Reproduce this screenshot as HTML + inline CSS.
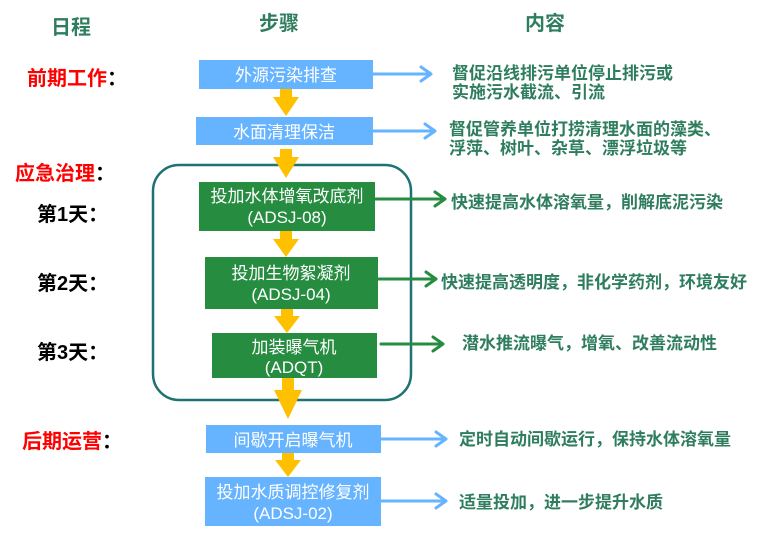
<!DOCTYPE html>
<html><head><meta charset="utf-8"><style>
body{margin:0;background:#fff;}
svg{display:block;font-family:"Liberation Sans","Noto Sans CJK SC",sans-serif;}
.h{fill:#2e7d5e;font-weight:bold;font-size:20px;}
.l{fill:#ff0000;font-weight:bold;font-size:20px;}
.d{fill:#000;font-weight:bold;font-size:20px;}
.r{fill:#2e7d5e;font-weight:bold;font-size:17px;}
.b{fill:#fff;font-size:17px;}
</style></head><body>
<svg width="764" height="548" viewBox="0 0 764 548">
<text class="h" x="51" y="34">日程</text>
<text class="h" x="259" y="30">步骤</text>
<text class="h" x="525" y="30">内容</text>
<text class="l" x="27" y="85">前期工作<tspan fill="#000">：</tspan></text>
<text class="l" x="15" y="180">应急治理<tspan fill="#000">：</tspan></text>
<text class="d" x="37" y="221">第1天：</text>
<text class="d" x="37" y="290">第2天：</text>
<text class="d" x="37" y="359">第3天：</text>
<text class="l" x="22" y="448">后期运营<tspan fill="#000">：</tspan></text>

<rect x="153" y="165" width="258" height="235" rx="26" fill="none" stroke="#1f7272" stroke-width="2.5"/>

<g fill="#ffc000">
<path d="M280 89h12v8h7l-13 19l-13-19h7z"/>
<path d="M280 149h12v8h7l-13 21l-13-21h7z"/>
<path d="M280 231h12v8h7l-13 18l-13-18h7z"/>
<path d="M281 309h12v7h7l-13 17l-13-17h7z"/>
<path d="M282 378h12v12h8l-14 29l-14-29h8z"/>
<path d="M282 453h12v7h7l-13 17l-13-17h7z"/>
</g>

<rect x="199" y="60" width="174" height="29" fill="#66b3ff"/>
<text class="b" x="286" y="81" text-anchor="middle">外源污染排查</text>
<rect x="196" y="117" width="177" height="28" fill="#66b3ff"/>
<text class="b" x="284" y="138" text-anchor="middle">水面清理保洁</text>
<rect x="199" y="182" width="176" height="49" fill="#268c40"/>
<text class="b" x="287" y="202" text-anchor="middle">投加水体增氧改底剂</text>
<text class="b" x="287" y="223" text-anchor="middle">(ADSJ-08)</text>
<rect x="205" y="257" width="173" height="52" fill="#268c40"/>
<text class="b" x="291" y="279" text-anchor="middle">投加生物絮凝剂</text>
<text class="b" x="291" y="300" text-anchor="middle">(ADSJ-04)</text>
<rect x="212" y="333" width="165" height="45" fill="#268c40"/>
<text class="b" x="294" y="353" text-anchor="middle">加装曝气机</text>
<text class="b" x="294" y="373" text-anchor="middle">(ADQT)</text>
<rect x="206" y="425" width="175" height="28" fill="#66b3ff"/>
<text class="b" x="293" y="446" text-anchor="middle">间歇开启曝气机</text>
<rect x="205" y="477" width="176" height="49" fill="#66b3ff"/>
<text class="b" x="293" y="498" text-anchor="middle">投加水质调控修复剂</text>
<text class="b" x="293" y="519" text-anchor="middle">(ADSJ-02)</text>

<g fill="none" stroke-width="3" stroke-linecap="round" stroke-linejoin="round">
<g stroke="#66b3ff">
<path d="M373 74H431M421 67l10 7l-10 7"/>
<path d="M373 131H435M425 124l10 7l-10 7"/>
<path d="M381 439H446M436 432l10 7l-10 7"/>
<path d="M381 501H446M436 494l10 7l-10 7"/>
</g>
<g stroke="#268c40">
<path d="M375 199H445M435 192l10 7l-10 7"/>
<path d="M378 279H436M426 272l10 7l-10 7"/>
<path d="M381 344H443M433 337l10 7l-10 7"/>
</g>
</g>

<text class="r" x="452" y="79">督促沿线排污单位停止排污或</text>
<text class="r" x="452" y="98">实施污水截流、引流</text>
<text class="r" x="449" y="135">督促管养单位打捞清理水面的藻类、</text>
<text class="r" x="449" y="154">浮萍、树叶、杂草、漂浮垃圾等</text>
<text class="r" x="451" y="208">快速提高水体溶氧量，削解底泥污染</text>
<text class="r" x="441" y="288">快速提高透明度，非化学药剂，环境友好</text>
<text class="r" x="462" y="349">潜水推流曝气，增氧、改善流动性</text>
<text class="r" x="459" y="445">定时自动间歇运行，保持水体溶氧量</text>
<text class="r" x="459" y="508">适量投加，进一步提升水质</text>
</svg>
</body></html>
